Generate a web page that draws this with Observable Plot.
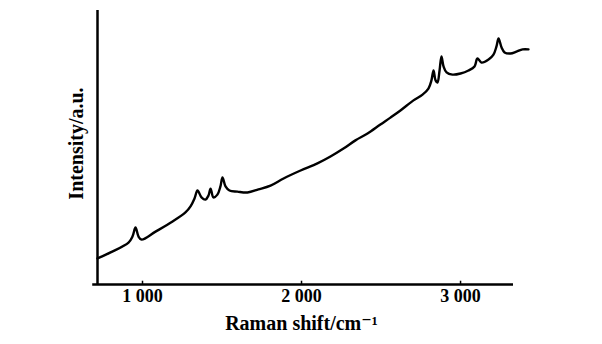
<!DOCTYPE html>
<html>
<head>
<meta charset="utf-8">
<script src="https://cdn.jsdelivr.net/npm/d3@7"></script>
<script src="https://cdn.jsdelivr.net/npm/@observablehq/plot@0.6"></script>
<style>
  html, body { margin: 0; padding: 0; background: #fff; }
  #chart svg { display: block; }
</style>
</head>
<body>
<div id="chart"></div>
<script>
// Raman shift (cm^-1) and intensity (a.u.)
const shift = [717, 799, 912, 937, 956, 975, 994, 1082, 1189, 1270, 1302, 1327, 1346, 1371, 1396, 1415, 1428, 1446, 1471, 1490, 1503, 1522, 1547, 1597, 1660, 1729, 1805, 1887, 1994, 2100, 2182, 2264, 2339, 2415, 2496, 2559, 2622, 2704, 2761, 2798, 2817, 2830, 2843, 2855, 2868, 2880, 2893, 2912, 2949, 3000, 3050, 3088, 3106, 3132, 3176, 3207, 3226, 3239, 3258, 3277, 3314, 3352, 3390, 3427];
const intensity = [9.5, 11.7, 15.3, 17.5, 20.8, 17.5, 16.4, 19.3, 23.0, 26.3, 28.5, 31.4, 34.3, 31.8, 31.0, 32.5, 35.0, 31.8, 32.8, 35.8, 39.1, 35.8, 34.3, 33.9, 33.6, 34.7, 36.1, 38.7, 41.6, 44.2, 46.7, 49.6, 52.6, 55.1, 58.4, 60.9, 63.5, 67.2, 69.3, 71.5, 74.5, 78.1, 74.5, 73.7, 78.1, 83.2, 79.6, 77.4, 76.6, 77.0, 78.1, 79.6, 82.5, 81.0, 82.1, 83.9, 86.9, 89.8, 86.5, 84.7, 84.3, 85.0, 85.8, 85.8];
const xTicks = [1000, 2000, 3000];
const xTickLabels = ["1 000", "2 000", "3 000"];
const xDomain = [717, 3333];
const yDomain = [0, 100];
const xTitle = "Raman shift/cm⁻¹";
const yTitle = "Intensity/a.u.";

const data = shift.map((s, i) => ({s, v: intensity[i]}));
const font = "'Liberation Serif', 'DejaVu Serif', serif";

const chart = Plot.plot({
  width: 602,
  height: 344,
  marginLeft: 97,
  marginRight: 89,
  marginTop: 10,
  marginBottom: 60,
  style: {fontFamily: font, fontSize: "18px", fontWeight: "bold", color: "#000", background: "#fff"},
  x: {domain: xDomain},
  y: {domain: yDomain},
  marks: [
    Plot.axisX({
      ticks: xTicks,
      tickFormat: (d) => xTickLabels[xTicks.indexOf(d)],
      tickSize: 0,
      tickPadding: 5,
      label: null,
      fontSize: 18
    }),
    Plot.axisY({ticks: [], label: null}),
    Plot.ruleX(xTicks, {y1: 0, y2: 1.2, stroke: "#000", strokeWidth: 1.5}),
    Plot.ruleX([xDomain[0]], {stroke: "#000", strokeWidth: 2.5}),
    Plot.ruleY([yDomain[0]], {x1: xDomain[0] - 30, x2: xDomain[1], stroke: "#000", strokeWidth: 2.5}),
    Plot.line(data, {x: "s", y: "v", stroke: "#000", strokeWidth: 2.4, curve: "catmull-rom"}),
    Plot.text([xTitle], {frameAnchor: "bottom", dy: 45, fontSize: 20, dx: -4}),
    Plot.text([yTitle], {frameAnchor: "left", textAnchor: "middle", rotate: -90, dx: -21, dy: -4, fontSize: 20})
  ]
});
document.getElementById("chart").appendChild(chart);
</script>
</body>
</html>
